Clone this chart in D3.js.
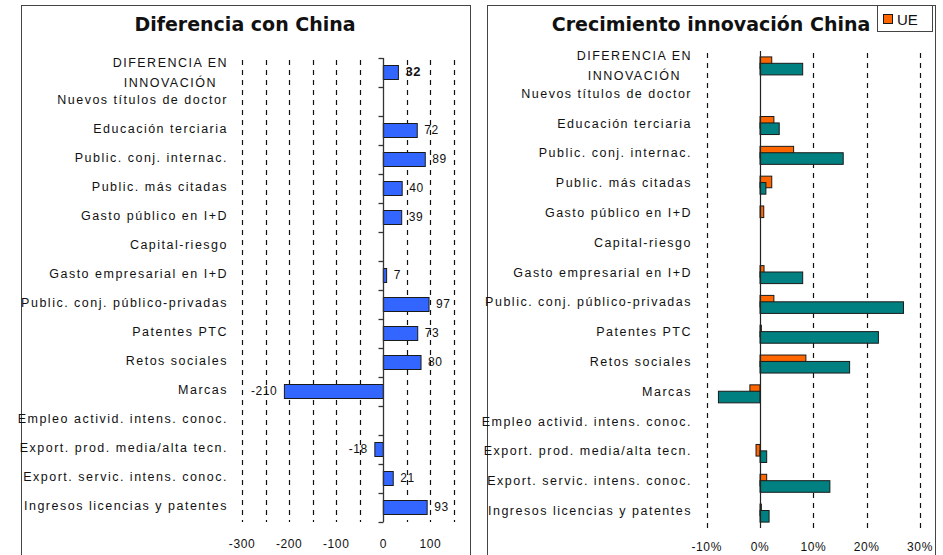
<!DOCTYPE html>
<html>
    <head>
        <title>Diferencia y crecimiento China</title>
        <meta charset="UTF-8">
        <script type="text/javascript" src="https://cdn.jsdelivr.net/npm/d3@7"></script>
        <style type="text/css">
            body { margin: 0; background: #fff; }
            text { font-family: "Liberation Sans", Arial, sans-serif; fill: #111; }
            .cat { font-size: 12.5px; letter-spacing: 1.5px; }
            .tick { font-size: 12px; letter-spacing: 0.6px; }
            .title { font-family: "DejaVu Sans", Verdana, sans-serif; font-weight: bold; font-size: 19px; }
        </style>
    </head>
    <body>
        <div id="chart"></div>
        <script type="text/javascript">
            var svgW = 943, svgH = 555;

            // categories, same order in both panels
            var categories = [
                "DIFERENCIA EN|INNOVACIÓN",
                "Nuevos títulos de doctor",
                "Educación terciaria",
                "Public. conj. internac.",
                "Public. más citadas",
                "Gasto público en I+D",
                "Capital-riesgo",
                "Gasto empresarial en I+D",
                "Public. conj. público-privadas",
                "Patentes PTC",
                "Retos sociales",
                "Marcas",
                "Empleo activid. intens. conoc.",
                "Export. prod. media/alta tecn.",
                "Export. servic. intens. conoc.",
                "Ingresos licencias y patentes"
            ];

            // left panel: difference with China (null = no bar)
            var diffChina = [32, null, 72, 89, 40, 39, null, 7, 97, 73, 80, -210, null, -18, 21, 93];
            var diffTicks = [-300, -200, -100, 0, 100];
            var diffGrid = [-300, -250, -200, -150, -100, -50, 50, 100, 150];

            // right panel: growth (%), UE and China
            var growthUE = [2.2, null, 2.6, 6.3, 2.2, 0.7, null, 0.75, 2.6, 0.25, 8.6, -1.9, null, -0.75, 1.25, 0.25];
            var growthChina = [8.0, null, 3.6, 15.6, 1.1, null, null, 8.0, 26.9, 22.2, 16.8, -7.8, null, 1.25, 13.1, 1.7];
            var growthTicks = [-10, 0, 10, 20, 30];
            var growthGrid = [-10, 10, 20, 30];

            var svg = d3.select("#chart").append("svg")
                    .attr("width", svgW)
                    .attr("height", svgH);

            // draw category labels right-aligned at xRight
            function drawCategoryLabels(g, y, xRight) {
                categories.forEach(function (c, i) {
                    var cy = y(c) + y.bandwidth() / 2;
                    var parts = c.split("|");
                    if (parts.length === 1) {
                        g.append("text").attr("class", "cat")
                                .attr("x", xRight).attr("y", cy + 2)
                                .attr("text-anchor", "end").text(c);
                    } else {
                        var t1 = g.append("text").attr("class", "cat")
                                .attr("x", xRight).attr("y", cy - 6)
                                .attr("text-anchor", "end").text(parts[0]);
                        var w = t1.node().getComputedTextLength();
                        g.append("text").attr("class", "cat")
                                .attr("x", xRight - w / 2).attr("y", cy + 14)
                                .attr("text-anchor", "middle").text(parts[1]);
                    }
                });
            }

            function dashedGrid(g, x, vals, y0, y1) {
                g.selectAll("line.grid").data(vals).enter().append("line")
                        .attr("class", "grid")
                        .attr("x1", function (d) { return Math.round(x(d)) + 0.5; })
                        .attr("x2", function (d) { return Math.round(x(d)) + 0.5; })
                        .attr("y1", y0).attr("y2", y1)
                        .attr("stroke", "#111")
                        .attr("stroke-width", 1.2)
                        .attr("stroke-dasharray", "5,5");
            }

            // ---------- left panel ----------
            var left = svg.append("g");
            left.append("rect").attr("x", 21.5).attr("y", 5.5).attr("width", 449).attr("height", 570)
                    .attr("fill", "none").attr("stroke", "#444");
            left.append("text").attr("class", "title")
                    .attr("x", 245).attr("y", 31).attr("text-anchor", "middle")
                    .text("Diferencia con China");

            var xL = d3.scaleLinear().domain([-300, 150]).range([242, 454]);
            var yL = d3.scaleBand().domain(categories).range([58, 522]).paddingInner(0).paddingOuter(0);

            dashedGrid(left, xL, diffGrid, 60, 522);
            drawCategoryLabels(left, yL, 228);

            var barH = 14;
            left.selectAll("rect.bar").data(categories.map(function (c, i) { return {c: c, v: diffChina[i]}; })
                    .filter(function (d) { return d.v !== null; }))
                    .enter().append("rect").attr("class", "bar")
                    .attr("x", function (d) { return xL(Math.min(0, d.v)); })
                    .attr("width", function (d) { return Math.abs(xL(d.v) - xL(0)); })
                    .attr("y", function (d) { return yL(d.c) + (yL.bandwidth() - barH) / 2; })
                    .attr("height", barH)
                    .attr("fill", "#3366ff")
                    .attr("stroke", "#1a1a1a")
                    .attr("stroke-width", 1);

            left.selectAll("text.val").data(categories.map(function (c, i) { return {c: c, v: diffChina[i], i: i}; })
                    .filter(function (d) { return d.v !== null; }))
                    .enter().append("text").attr("class", "tick")
                    .attr("x", function (d) { return d.v < 0 ? xL(d.v) - 7 : xL(d.v) + 7; })
                    .attr("y", function (d) { return yL(d.c) + yL.bandwidth() / 2 + 3; })
                    .attr("text-anchor", function (d) { return d.v < 0 ? "end" : "start"; })
                    .style("font-weight", function (d) { return d.i === 0 ? "bold" : "normal"; })
                    .style("font-size", function (d) { return d.i === 0 ? "13px" : "12px"; })
                    .text(function (d) { return d.v; });

            // zero axis with category ticks
            var x0L = Math.round(xL(0)) + 0.5;
            left.append("line").attr("x1", x0L).attr("x2", x0L).attr("y1", 58).attr("y2", 522)
                    .attr("stroke", "#333").attr("stroke-width", 1.3);
            var bounds = categories.map(function (c) { return yL(c); }).concat([522]);
            left.selectAll("line.ct").data(bounds).enter().append("line")
                    .attr("x1", x0L - 5).attr("x2", x0L)
                    .attr("y1", function (d) { return Math.round(d) + 0.5; })
                    .attr("y2", function (d) { return Math.round(d) + 0.5; })
                    .attr("stroke", "#333").attr("stroke-width", 1.3);

            left.selectAll("text.xt").data(diffTicks).enter().append("text").attr("class", "tick")
                    .attr("x", function (d) { return xL(d); }).attr("y", 548)
                    .attr("text-anchor", "middle").text(function (d) { return d; });

            // ---------- right panel ----------
            var right = svg.append("g");
            right.append("rect").attr("x", 487.5).attr("y", 5.5).attr("width", 448).attr("height", 570)
                    .attr("fill", "none").attr("stroke", "#444");
            right.append("text").attr("class", "title")
                    .attr("x", 711).attr("y", 31).attr("text-anchor", "middle")
                    .text("Crecimiento innovación China");

            var xR = d3.scaleLinear().domain([-10, 30]).range([706.7, 920]);
            var yR = d3.scaleBand().domain(categories).range([51, 528]);

            dashedGrid(right, xR, growthGrid, 53, 528);
            drawCategoryLabels(right, yR, 692);

            var rows = categories.map(function (c, i) { return {c: c, ue: growthUE[i], cn: growthChina[i]}; });
            var hR = 11.6;
            right.selectAll("rect.ue").data(rows.filter(function (d) { return d.ue !== null; }))
                    .enter().append("rect")
                    .attr("x", function (d) { return xR(Math.min(0, d.ue)); })
                    .attr("width", function (d) { return Math.abs(xR(d.ue) - xR(0)); })
                    .attr("y", function (d) { return yR(d.c) + yR.bandwidth() / 2 - 9; })
                    .attr("height", hR)
                    .attr("fill", "#ff6600").attr("stroke", "#1a1a1a").attr("stroke-width", 1);
            right.selectAll("rect.cn").data(rows.filter(function (d) { return d.cn !== null; }))
                    .enter().append("rect")
                    .attr("x", function (d) { return xR(Math.min(0, d.cn)); })
                    .attr("width", function (d) { return Math.abs(xR(d.cn) - xR(0)); })
                    .attr("y", function (d) { return yR(d.c) + yR.bandwidth() / 2 - 2.6; })
                    .attr("height", hR)
                    .attr("fill", "#008080").attr("stroke", "#1a1a1a").attr("stroke-width", 1);

            var x0R = Math.round(xR(0)) + 0.5;
            right.append("line").attr("x1", x0R).attr("x2", x0R).attr("y1", 51).attr("y2", 528)
                    .attr("stroke", "#222").attr("stroke-width", 1.2);

            right.selectAll("text.xt").data(growthTicks).enter().append("text").attr("class", "tick")
                    .attr("x", function (d) { return xR(d); }).attr("y", 551)
                    .attr("text-anchor", "middle").text(function (d) { return d + "%"; });

            // legend (only UE visible)
            right.append("rect").attr("x", 877.5).attr("y", 5.5).attr("width", 55).attr("height", 26)
                    .attr("fill", "#fff").attr("stroke", "#444");
            right.append("rect").attr("x", 883.5).attr("y", 14.5).attr("width", 9).attr("height", 9)
                    .attr("fill", "#ff6600").attr("stroke", "#1a1a1a");
            right.append("text").attr("x", 897).attr("y", 25).style("font-size", "15px").text("UE");
        </script>
    </body>
</html>
